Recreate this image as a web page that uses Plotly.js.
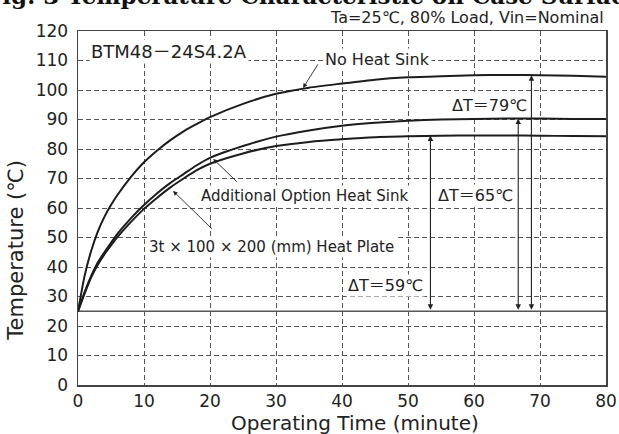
<!DOCTYPE html>
<html>
<head>
<meta charset="utf-8">
<script src="https://cdn.plot.ly/plotly-3.0.1.min.js"></script>
<style>html,body{margin:0;padding:0;background:#fff;}#chart{width:619px;height:434px;}</style>
</head>
<body>
<div id="chart"></div>
<script>
// ---- data ----
const time = [0,1,2,3,4,5,6,8,10,12,14,16,18,20,25,30,35,40,45,50,55,60,65,70,75,80];
const noHeatSink = [25,37,45.5,52,57,61,64.5,70.5,75.5,79.5,83,86,88.5,90.8,95.3,98.7,100.8,102.2,103.5,104.3,104.7,105,105.1,105,104.8,104.5];
const optionHeatSink = [25,31.5,37,41.5,45,48.2,51.3,56.5,61,65,68.5,71.5,74.5,77,81,84.2,86.3,87.9,88.9,89.6,90,90.2,90.3,90.3,90.2,90.2];
const heatPlate = [25,31,36.5,40.8,44.3,47.3,50.2,55.2,59.7,63.5,67,70,72.8,75,78.5,81,82.4,83.3,84,84.3,84.5,84.6,84.6,84.5,84.4,84.3];
const ambientTime = [0,80];
const ambientTemp = [25,25];
const xTicks = [0,10,20,30,40,50,60,70,80];
const yTicks = [0,10,20,30,40,50,60,70,80,90,100,110,120];
const deltaLabels = ['ΔT＝79℃','ΔT＝65℃','ΔT＝59℃'];
const deltaTimes = [68.7, 66.7, 53.4];
const deltaTops = [105.0, 90.3, 84.6];
const deltaLabelTemps = [94.9, 64.1, 33.9];

const FONT = 'DejaVu Sans, Noto Sans CJK JP, sans-serif';
const curveStyle = {color:'#1c1c1c', width:2, shape:'spline', smoothing:0.6};

const traces = [
  {x: ambientTime, y: ambientTemp, mode:'lines', line:{color:'#555', width:1.3}, hoverinfo:'skip'},
  {x: time, y: noHeatSink, mode:'lines', line: curveStyle, name:'No Heat Sink'},
  {x: time, y: optionHeatSink, mode:'lines', line: curveStyle, name:'Additional Option Heat Sink'},
  {x: time, y: heatPlate, mode:'lines', line: curveStyle, name:'Heat Plate'}
];

function label(text, x, y, xanchor, size){
  return {text:text, x:x, y:y, xref:'x', yref:'y', xanchor:xanchor||'center', yanchor:'middle',
    showarrow:false, bgcolor:'#fff', borderpad:1, font:{family:FONT, size:size||16, color:'#222'}};
}
function pointer(tipX, tipY, tailX, tailY){
  return {text:'', x:tipX, y:tipY, ax:tailX, ay:tailY, xref:'x', yref:'y', axref:'x', ayref:'y',
    showarrow:true, arrowhead:2, arrowsize:1.0, arrowwidth:0.9, arrowcolor:'#222', standoff:0};
}
function doubleArrow(x, top){
  return {text:'', x:x, y:top, ax:x, ay:25, xref:'x', yref:'y', axref:'x', ayref:'y',
    showarrow:true, arrowhead:2, startarrowhead:2, arrowside:'end+start', arrowsize:1.0, startarrowsize:1.0,
    arrowwidth:1.1, arrowcolor:'#222', standoff:0, startstandoff:0};
}

const annotations = [
  label('BTM48－24S4.2A', 1.6, 112.9, 'left', 18),
  label('No Heat Sink', 45.4, 110.2, 'center', 16),
  label('Additional Option Heat Sink', 34.3, 64.1, 'center', 15),
  label('3t × 100 × 200 (mm) Heat Plate', 29.3, 46.9, 'center', 15),
  label(deltaLabels[0], deltaTimes[0]-0.3, deltaLabelTemps[0], 'right', 16),
  label(deltaLabels[1], deltaTimes[1]-0.5, deltaLabelTemps[1], 'right', 16),
  label(deltaLabels[2], deltaTimes[2]-0.8, deltaLabelTemps[2], 'right', 16),
  pointer(34.1, 100.7, 36.5, 109.2),
  pointer(20.5, 76.6, 24.3, 68.4),
  pointer(14.4, 65.8, 20.5, 52.5),
  doubleArrow(deltaTimes[0], deltaTops[0]),
  doubleArrow(deltaTimes[1], deltaTops[1]),
  doubleArrow(deltaTimes[2], deltaTops[2]),
  // paper texts
  {text:'Ta=25℃, 80% Load, Vin=Nominal', xref:'paper', yref:'paper', x:1.0, y:1.037, xanchor:'right', yanchor:'middle',
    showarrow:false, font:{family:FONT, size:16, color:'#222'}},
  {text:'Fig. 3 Temperature Characteristic on Case Surface', xref:'paper', yref:'paper', x:-0.178, y:1.1,
    xanchor:'left', yanchor:'middle', showarrow:false, font:{family:'DejaVu Serif, serif', size:23, color:'#111', weight:'bold'}},
  {text:'Temperature (℃)', xref:'paper', yref:'paper', x:-0.117, y:0.38, xanchor:'center', yanchor:'middle',
    textangle:-90, showarrow:false, font:{family:FONT, size:21, color:'#222'}},
  {text:'Operating Time (minute)', xref:'paper', yref:'paper', x:0.525, y:-0.107, xanchor:'center', yanchor:'middle',
    showarrow:false, font:{family:FONT, size:20, color:'#222'}}
];

const axisCommon = {
  showline:true, mirror:true, linecolor:'#444', linewidth:1.5,
  showgrid:true, gridcolor:'#555', gridwidth:1, griddash:'5px,3px',
  zeroline:false, ticks:'', tickfont:{family:FONT, size:17, color:'#222'}, fixedrange:true
};

const layout = {
  width:619, height:434,
  margin:{l:78, r:13, t:31, b:49},
  paper_bgcolor:'#fff', plot_bgcolor:'#fff',
  showlegend:false,
  xaxis: Object.assign({}, axisCommon, {range:[0,80], tickvals:xTicks, ticktext:xTicks.map(String)}),
  yaxis: Object.assign({}, axisCommon, {range:[0,120], tickvals:yTicks, ticktext:yTicks.map(String), ticklabelstandoff:5}),
  annotations: annotations
};

Plotly.newPlot('chart', traces, layout, {displayModeBar:false, staticPlot:true});
</script>
</body>
</html>
